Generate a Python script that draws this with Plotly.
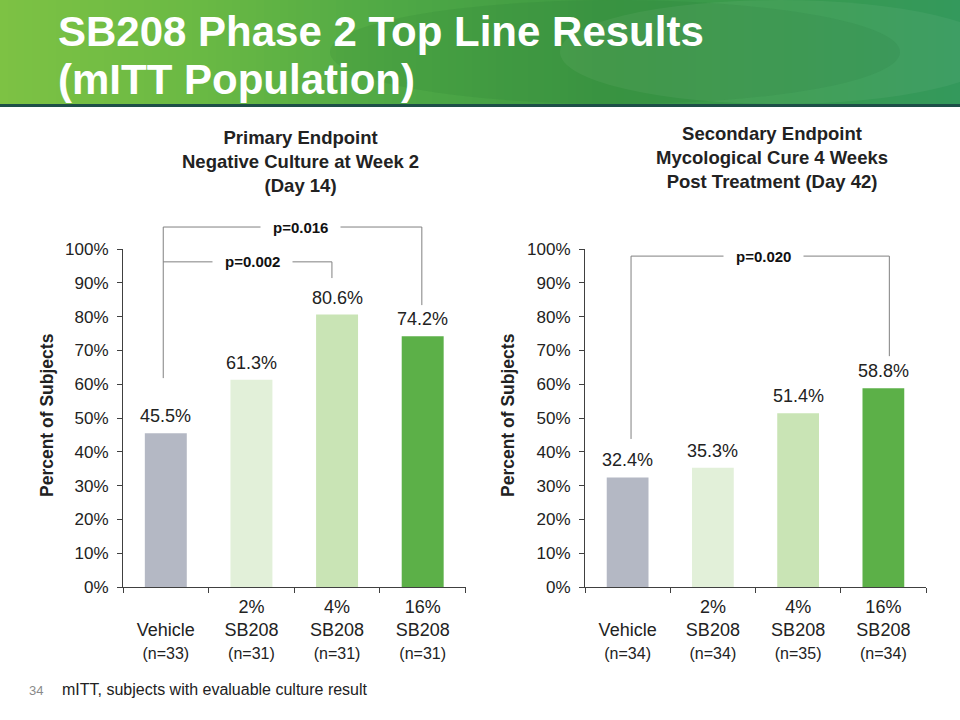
import plotly.graph_objects as go

# ---------------- data ----------------
categories = ["Vehicle", "2% SB208", "4% SB208", "16% SB208"]
tick_main = [" <br>Vehicle", "2%<br>SB208", "4%<br>SB208", "16%<br>SB208"]
primary_n = ["(n=33)", "(n=31)", "(n=31)", "(n=31)"]
secondary_n = ["(n=34)", "(n=34)", "(n=35)", "(n=34)"]
primary_values = [45.5, 61.3, 80.6, 74.2]
secondary_values = [32.4, 35.3, 51.4, 58.8]
bar_colors = ["#b4b8c4", "#e2f0d9", "#c9e4b5", "#5cb048"]
y_ticks = [0, 10, 20, 30, 40, 50, 60, 70, 80, 90, 100]
y_tick_labels = [f"{v}%" for v in y_ticks]

title_lines = ["SB208 Phase 2 Top Line Results", "(mITT Population)"]
primary_title = "Primary Endpoint<br>Negative Culture at Week 2<br>(Day 14)"
secondary_title = "Secondary Endpoint<br>Mycological Cure 4 Weeks<br>Post Treatment (Day 42)"
y_title = "Percent of Subjects"
footnote = "mITT, subjects with evaluable culture result"
page_number = "34"

# significance brackets (x in category units, y in percent)
primary_brackets = [
    dict(label="p=0.016", label_x=1.57, x0=-0.03, x1=2.99, top=106.5, left_end=61.8, right_end=83.4),
    dict(label="p=0.002", label_x=1.01, x0=-0.03, x1=1.94, top=96.2, left_end=None, right_end=91.4),
]
secondary_brackets = [
    dict(label="p=0.020", label_x=1.59, x0=0.04, x1=3.07, top=97.9, left_end=43.8, right_end=68.3),
]

W, H = 960, 720
FONT = "Liberation Sans, Arial, sans-serif"


def px(x):
    return x / W


def py(y):
    return 1 - y / H


def tick_text(main, ns):
    return [f"{m}<br><span style='font-size:16px'>{n}</span>" for m, n in zip(main, ns)]


fig = go.Figure()
annotations = []

for vals, xa, ya in ((primary_values, "x", "y"), (secondary_values, "x2", "y2")):
    fig.add_trace(go.Bar(
        x=categories, y=vals, marker_color=bar_colors, width=0.49,
        xaxis=xa, yaxis=ya, showlegend=False, hoverinfo="skip"))
    for c, v in zip(categories, vals):
        annotations.append(dict(text=f"{v:.1f}%", xref=xa, yref=ya, x=c, y=v,
                                xanchor="center", yanchor="bottom", yshift=5, showarrow=False,
                                font=dict(size=18, color="#222222", family=FONT)))

axis_common = dict(showline=True, linecolor="#404040", linewidth=1, ticks="outside",
                   ticklen=5, tickcolor="#404040", showgrid=False, zeroline=False,
                   fixedrange=True, automargin=False)
ytick_font = dict(size=17, color="#222222", family=FONT)
xtick_font = dict(size=18, color="#222222", family=FONT)

x_dom_l = [px(123), px(465.5)]
x_dom_r = [px(585), px(926)]
y_dom = [py(587), py(249)]

fig.update_layout(
    template="none",
    width=W, height=H, margin=dict(l=0, r=0, t=0, b=0, pad=0, autoexpand=False), autosize=False,
    paper_bgcolor="white", plot_bgcolor="white", showlegend=False,
    font=dict(family=FONT, color="#222222"),
    xaxis=dict(domain=x_dom_l, anchor="y", tickmode="array", tickvals=categories,
               ticktext=tick_text(tick_main, primary_n), tickson="boundaries",
               ticklabelstandoff=3, range=[-0.5, 3.5], tickfont=xtick_font, **axis_common),
    yaxis=dict(domain=y_dom, anchor="x", range=[0, 100], tickvals=y_ticks,
               ticktext=y_tick_labels, ticklabelstandoff=5, tickfont=ytick_font, **axis_common),
    xaxis2=dict(domain=x_dom_r, anchor="y2", tickmode="array", tickvals=categories,
                ticktext=tick_text(tick_main, secondary_n), tickson="boundaries",
                ticklabelstandoff=3, range=[-0.5, 3.5], tickfont=xtick_font, **axis_common),
    yaxis2=dict(domain=y_dom, anchor="x2", range=[0, 100], tickvals=y_ticks,
                ticktext=y_tick_labels, ticklabelstandoff=5, tickfont=ytick_font, **axis_common),
)

shapes = []

# header gradient band
stops = [(0, (125, 194, 68)), (200, (106, 185, 68)), (400, (78, 168, 69)),
         (600, (62, 153, 68)), (800, (56, 154, 80)), (960, (52, 153, 92))]


def color_at(x):
    for (xa, ca), (xb, cb) in zip(stops[:-1], stops[1:]):
        if xa <= x <= xb:
            t = (x - xa) / (xb - xa)
            return "rgb(%d,%d,%d)" % tuple(round(a + (b - a) * t) for a, b in zip(ca, cb))
    return "rgb(%d,%d,%d)" % stops[-1][1]


step = 8
for x in range(0, W, step):
    shapes.append(dict(type="rect", xref="paper", yref="paper", x0=px(x), x1=px(x + step + 0.5),
                       y0=py(104), y1=py(0), fillcolor=color_at(x + step / 2), line_width=0,
                       layer="below"))
# faint ellipses in header
for (x0, x1, y0, y1, col) in [(330, 900, 0, 104, "rgba(20,100,40,0.10)"),
                              (560, 1000, 0, 104, "rgba(255,255,255,0.05)")]:
    shapes.append(dict(type="circle", xref="paper", yref="paper", x0=px(x0), x1=px(x1),
                       y0=py(y1), y1=py(y0), fillcolor=col, line_width=0, layer="below"))
shapes.append(dict(type="rect", xref="paper", yref="paper", x0=0, x1=1, y0=py(107), y1=py(104),
                   fillcolor="#1d4f48", line_width=0, layer="below"))

for line, yc in zip(title_lines, (32, 79)):
    annotations.append(dict(text=f"<b>{line}</b>", xref="paper", yref="paper", x=px(56), y=py(yc),
                            xanchor="left", yanchor="middle", align="left", showarrow=False,
                            font=dict(size=42, color="white", family=FONT)))

# chart titles
annotations.append(dict(text=f"<b>{primary_title}</b>", xref="paper", yref="paper", x=px(300), y=py(162),
                        xanchor="center", yanchor="middle", showarrow=False,
                        font=dict(size=18.5, color="#222222", family=FONT)))
annotations.append(dict(text=f"<b>{secondary_title}</b>", xref="paper", yref="paper", x=px(772), y=py(157),
                        xanchor="center", yanchor="middle", showarrow=False,
                        font=dict(size=18.5, color="#222222", family=FONT)))

# y-axis titles
for xpos in (47, 508):
    annotations.append(dict(text=f"<b>{y_title}</b>", xref="paper", yref="paper", x=px(xpos), y=py(415),
                            xanchor="center", yanchor="middle", textangle=-90, showarrow=False,
                            font=dict(size=17.5, color="#222222", family=FONT)))


def to_dom(v, lo, hi):
    return (v - lo) / (hi - lo)


def add_brackets(brackets, xa, ya, xdom):
    for b in brackets:
        X0 = to_dom(b["x0"], -0.5, 3.5)
        X1 = to_dom(b["x1"], -0.5, 3.5)
        T = to_dom(b["top"], 0, 100)
        line = dict(color="#808080", width=1)
        common = dict(type="line", xref=f"{xa} domain", yref=f"{ya} domain", line=line, layer="above")
        shapes.append(dict(x0=X0, x1=X1, y0=T, y1=T, **common))
        if b["left_end"] is not None:
            shapes.append(dict(x0=X0, x1=X0, y0=T, y1=to_dom(b["left_end"], 0, 100), **common))
        if b["right_end"] is not None:
            shapes.append(dict(x0=X1, x1=X1, y0=T, y1=to_dom(b["right_end"], 0, 100), **common))
        lx = xdom[0] + to_dom(b["label_x"], -0.5, 3.5) * (xdom[1] - xdom[0])
        ly = y_dom[0] + T * (y_dom[1] - y_dom[0])
        annotations.append(dict(text=f"<b>{b['label']}</b>", xref="paper", yref="paper", x=lx, y=ly,
                                xanchor="center", yanchor="middle", showarrow=False, bgcolor="white",
                                borderpad=12, font=dict(size=15, color="#111111", family=FONT)))


add_brackets(primary_brackets, "x", "y", x_dom_l)
add_brackets(secondary_brackets, "x2", "y2", x_dom_r)

# footer
annotations.append(dict(text=page_number, xref="paper", yref="paper", x=px(27), y=py(690),
                        xanchor="left", yanchor="middle", showarrow=False,
                        font=dict(size=13, color="#8a8a8a", family=FONT)))
annotations.append(dict(text=footnote, xref="paper", yref="paper", x=px(60), y=py(689),
                        xanchor="left", yanchor="middle", showarrow=False,
                        font=dict(size=16, color="#222222", family=FONT)))

fig.update_layout(shapes=shapes, annotations=annotations)

fig.write_html(
    "out.html",
    config={"responsive": False, "displayModeBar": False, "staticPlot": True},
    post_script=(
        "document.documentElement.style.margin='0';"
        "document.body.style.margin='0';document.body.style.padding='0';"
        "document.body.style.overflow='hidden';"
        "var d=document.getElementById('{plot_id}');"
        "d.style.position='fixed';d.style.top='0px';d.style.left='0px';"
    ),
)
